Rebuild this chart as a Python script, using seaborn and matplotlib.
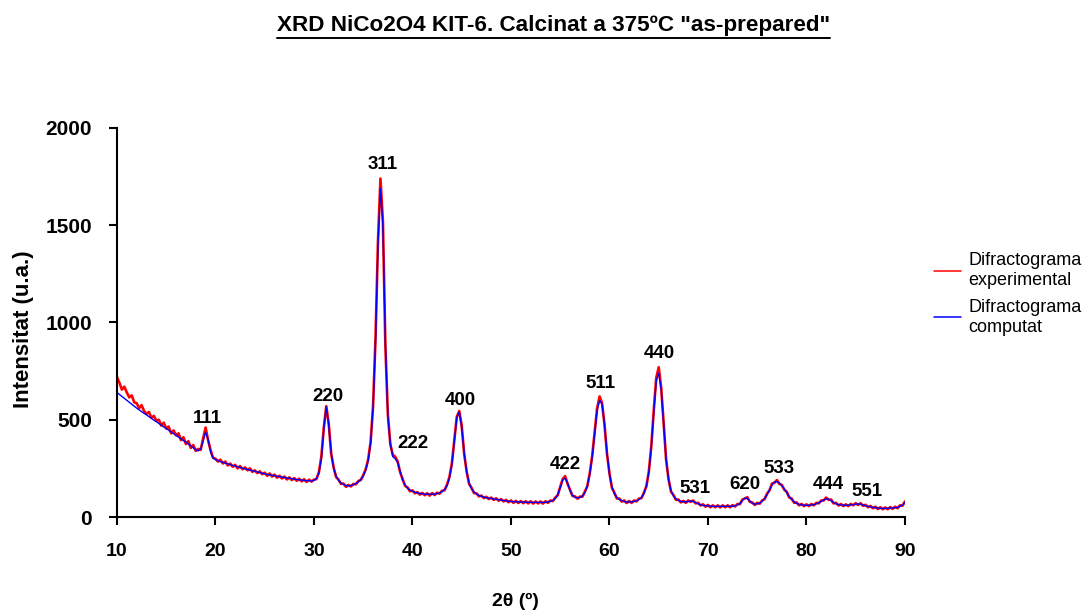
import matplotlib
matplotlib.use("Agg")
import matplotlib.pyplot as plt
from matplotlib import font_manager
from matplotlib.lines import Line2D
import seaborn as sns
import pandas as pd

# ---------------- data ----------------
two_theta = [
    10.0, 10.25, 10.5, 10.75, 11.0, 11.25, 11.5, 11.75,
    12.0, 12.25, 12.5, 12.75, 13.0, 13.25, 13.5, 13.75,
    14.0, 14.25, 14.5, 14.75, 15.0, 15.25, 15.5, 15.75,
    16.0, 16.25, 16.5, 16.75, 17.0, 17.25, 17.5, 17.75,
    18.0, 18.25, 18.5, 18.75, 19.0, 19.25, 19.5, 19.75,
    20.0, 20.25, 20.5, 20.75, 21.0, 21.25, 21.5, 21.75,
    22.0, 22.25, 22.5, 22.75, 23.0, 23.25, 23.5, 23.75,
    24.0, 24.25, 24.5, 24.75, 25.0, 25.25, 25.5, 25.75,
    26.0, 26.25, 26.5, 26.75, 27.0, 27.25, 27.5, 27.75,
    28.0, 28.25, 28.5, 28.75, 29.0, 29.25, 29.5, 29.75,
    30.0, 30.25, 30.5, 30.75, 31.0, 31.25, 31.5, 31.75,
    32.0, 32.25, 32.5, 32.75, 33.0, 33.25, 33.5, 33.75,
    34.0, 34.25, 34.5, 34.75, 35.0, 35.25, 35.5, 35.75,
    36.0, 36.25, 36.5, 36.75, 37.0, 37.25, 37.5, 37.75,
    38.0, 38.25, 38.5, 38.75, 39.0, 39.25, 39.5, 39.75,
    40.0, 40.25, 40.5, 40.75, 41.0, 41.25, 41.5, 41.75,
    42.0, 42.25, 42.5, 42.75, 43.0, 43.25, 43.5, 43.75,
    44.0, 44.25, 44.5, 44.75, 45.0, 45.25, 45.5, 45.75,
    46.0, 46.25, 46.5, 46.75, 47.0, 47.25, 47.5, 47.75,
    48.0, 48.25, 48.5, 48.75, 49.0, 49.25, 49.5, 49.75,
    50.0, 50.25, 50.5, 50.75, 51.0, 51.25, 51.5, 51.75,
    52.0, 52.25, 52.5, 52.75, 53.0, 53.25, 53.5, 53.75,
    54.0, 54.25, 54.5, 54.75, 55.0, 55.25, 55.5, 55.75,
    56.0, 56.25, 56.5, 56.75, 57.0, 57.25, 57.5, 57.75,
    58.0, 58.25, 58.5, 58.75, 59.0, 59.25, 59.5, 59.75,
    60.0, 60.25, 60.5, 60.75, 61.0, 61.25, 61.5, 61.75,
    62.0, 62.25, 62.5, 62.75, 63.0, 63.25, 63.5, 63.75,
    64.0, 64.25, 64.5, 64.75, 65.0, 65.25, 65.5, 65.75,
    66.0, 66.25, 66.5, 66.75, 67.0, 67.25, 67.5, 67.75,
    68.0, 68.25, 68.5, 68.75, 69.0, 69.25, 69.5, 69.75,
    70.0, 70.25, 70.5, 70.75, 71.0, 71.25, 71.5, 71.75,
    72.0, 72.25, 72.5, 72.75, 73.0, 73.25, 73.5, 73.75,
    74.0, 74.25, 74.5, 74.75, 75.0, 75.25, 75.5, 75.75,
    76.0, 76.25, 76.5, 76.75, 77.0, 77.25, 77.5, 77.75,
    78.0, 78.25, 78.5, 78.75, 79.0, 79.25, 79.5, 79.75,
    80.0, 80.25, 80.5, 80.75, 81.0, 81.25, 81.5, 81.75,
    82.0, 82.25, 82.5, 82.75, 83.0, 83.25, 83.5, 83.75,
    84.0, 84.25, 84.5, 84.75, 85.0, 85.25, 85.5, 85.75,
    86.0, 86.25, 86.5, 86.75, 87.0, 87.25, 87.5, 87.75,
    88.0, 88.25, 88.5, 88.75, 89.0, 89.25, 89.5, 89.75,
    90.0,
]

computed = [
    640, 630, 620, 610, 600, 590, 580, 570,
    560, 551, 542, 533, 525, 516, 507, 498,
    490, 481, 472, 463, 455, 446, 437, 428,
    420, 411, 402, 393, 385, 375, 366, 356,
    346, 340, 350, 390, 437, 400, 335, 303,
    295, 290, 285, 281, 277, 273, 269, 265,
    262, 258, 255, 251, 248, 245, 241, 238,
    235, 232, 228, 225, 222, 219, 217, 214,
    212, 210, 207, 205, 203, 201, 199, 197,
    195, 193, 191, 190, 188, 187, 186, 186,
    188, 198, 225, 300, 450, 566, 470, 330,
    250, 210, 188, 175, 167, 162, 160, 162,
    166, 172, 180, 192, 210, 240, 290, 380,
    560, 900, 1400, 1690, 1500, 900, 520, 380,
    310, 300, 280, 235, 190, 165, 148, 138,
    132, 127, 124, 121, 119, 118, 117, 117,
    118, 118, 120, 124, 130, 140, 160, 200,
    270, 390, 510, 540, 460, 330, 230, 175,
    145, 128, 118, 111, 106, 102, 99, 97,
    95, 93, 91, 89, 87, 85, 83, 81,
    80, 79, 78, 78, 77, 77, 76, 76,
    76, 75, 75, 75, 75, 75, 76, 78,
    80, 85, 95, 115, 150, 190, 200, 175,
    135, 112, 102, 98, 100, 108, 125, 160,
    220, 310, 430, 550, 600, 580, 470, 330,
    220, 155, 120, 100, 90, 84, 80, 77,
    77, 78, 80, 84, 90, 100, 120, 160,
    230, 360, 540, 700, 740, 660, 480, 300,
    190, 135, 108, 93, 85, 80, 78, 78,
    80, 82, 80, 74, 68, 64, 60, 58,
    57, 56, 55, 55, 55, 55, 55, 55,
    55, 55, 56, 58, 62, 70, 85, 98,
    95, 82, 70, 66, 68, 72, 80, 95,
    115, 140, 165, 180, 182, 175, 160, 145,
    125, 105, 90, 78, 70, 65, 62, 61,
    60, 61, 62, 64, 68, 74, 80, 88,
    93, 92, 84, 75, 68, 64, 62, 61,
    60, 61, 62, 64, 66, 67, 66, 62,
    58, 55, 52, 50, 48, 46, 45, 44,
    44, 45, 46, 47, 48, 50, 55, 62,
    75,
]

experimental = [
    720, 690, 655, 670, 640, 615, 625, 590,
    585, 560, 575, 545, 530, 540, 510, 520,
    495, 500, 470, 485, 455, 465, 430, 445,
    420, 430, 395, 410, 375, 390, 355, 370,
    340, 350, 345, 405, 460, 395, 345, 305,
    300, 285, 295, 275, 285, 265, 275, 258,
    268, 250, 262, 245, 255, 240, 250, 232,
    240, 226, 235, 220, 228, 212, 224, 208,
    218, 202, 212, 198, 208, 193, 204, 190,
    200, 186, 197, 183, 194, 180, 192, 182,
    192, 195, 230, 310, 460, 570, 480, 325,
    255, 205, 192, 170, 172, 155, 165, 157,
    170, 168, 185, 190, 215, 245, 295, 385,
    570, 920, 1420, 1740, 1520, 880, 530, 375,
    320, 310, 285, 230, 195, 160, 152, 132,
    137, 122, 128, 115, 124, 112, 122, 110,
    123, 113, 125, 120, 135, 137, 165, 205,
    275, 395, 515, 545, 470, 325, 235, 170,
    150, 123, 122, 106, 110, 97, 104, 92,
    100, 88, 96, 84, 92, 80, 88, 76,
    85, 73, 83, 72, 82, 71, 81, 70,
    81, 69, 80, 70, 80, 69, 81, 73,
    85, 82, 100, 112, 155, 195, 210, 170,
    140, 108, 106, 94, 105, 104, 130, 158,
    225, 315, 440, 560, 620, 585, 475, 325,
    225, 150, 125, 95, 95, 79, 85, 72,
    82, 73, 85, 80, 95, 97, 125, 158,
    235, 365, 550, 715, 770, 665, 485, 295,
    195, 130, 113, 88, 90, 75, 83, 73,
    85, 78, 85, 70, 73, 59, 65, 53,
    62, 50, 60, 50, 60, 49, 60, 50,
    60, 50, 61, 54, 67, 66, 90, 95,
    102, 78, 75, 62, 73, 68, 85, 92,
    120, 137, 172, 176, 190, 170, 165, 140,
    130, 100, 95, 73, 75, 60, 67, 56,
    65, 56, 67, 60, 73, 70, 85, 85,
    100, 88, 90, 70, 73, 59, 67, 56,
    65, 56, 67, 60, 71, 62, 71, 57,
    63, 50, 57, 45, 53, 41, 50, 40,
    49, 40, 51, 42, 53, 45, 60, 58,
    80,
]

peak_labels = ["111", "220", "311", "222", "400", "422", "511",
               "440", "531", "620", "533", "444", "551"]
peak_label_x = [19.2, 31.4, 37.0, 40.0, 44.9, 55.5, 59.1,
                65.1, 68.7, 73.75, 77.2, 82.2, 86.1]
peak_label_y = [509, 622, 1810, 380, 601, 272, 684,
                843, 149, 165, 247, 165, 129]

x_ticks = [10, 20, 30, 40, 50, 60, 70, 80, 90]
y_ticks = [0, 500, 1000, 1500, 2000]

series_names = ["Difractograma\nexperimental", "Difractograma\ncomputat"]
title_text = 'XRD NiCo2O4 KIT-6. Calcinat a 375ºC "as-prepared"'

# ---------------- style ----------------
sns.set_style("ticks")
available = {f.name for f in font_manager.fontManager.ttflist}
narrow = "Liberation Sans Narrow" if "Liberation Sans Narrow" in available else "Liberation Sans"
plt.rcParams["font.family"] = ["Liberation Sans", "DejaVu Sans"]
plt.rcParams["text.color"] = "black"
plt.rcParams["xtick.color"] = "black"
plt.rcParams["ytick.color"] = "black"
plt.rcParams["axes.labelcolor"] = "black"

df = pd.DataFrame({
    "2theta": two_theta * 2,
    "I": experimental + computed,
    "serie": [series_names[0]] * len(two_theta) + [series_names[1]] * len(two_theta),
})

fig = plt.figure(figsize=(10.83, 6.13), dpi=100)
fig.patch.set_facecolor("white")
ax = fig.add_axes([0.108, 0.1566, 0.7276, 0.6346])

sns.lineplot(data=df, x="2theta", y="I", hue="serie",
             palette={series_names[0]: "#FF0000", series_names[1]: "#0000FF"},
             size="serie", sizes={series_names[0]: 1.9, series_names[1]: 1.0},
             ax=ax, legend=False, estimator=None, sort=False)

ax.set_xlim(10, 90)
ax.set_ylim(0, 2000)
ax.set_xticks(x_ticks)
ax.set_yticks(y_ticks)
ax.set_xticklabels([str(t) for t in x_ticks], fontfamily=narrow,
                   fontweight="bold", fontsize=14)
ax.set_yticklabels([str(t) for t in y_ticks], fontweight="bold", fontsize=15)
ax.tick_params(axis="both", direction="out", length=6, width=1.5, colors="black")
ax.tick_params(axis="x", pad=13)
ax.tick_params(axis="y", pad=12)
for s in ["top", "right"]:
    ax.spines[s].set_visible(False)
for s in ["left", "bottom"]:
    ax.spines[s].set_linewidth(1.5)
    ax.spines[s].set_color("black")
ax.set_xlabel("")
ax.set_ylabel("")
ax.set_facecolor("white")

for lab, lx, ly in zip(peak_labels, peak_label_x, peak_label_y):
    ax.text(lx, ly, lab, ha="center", va="center", fontsize=13.5,
            fontweight="bold", color="black")

fig.text(0.0215, 0.463, "Intensitat (u.a.)", rotation=90, ha="center", va="center",
         fontsize=16, fontweight="bold", color="black")
fig.text(0.4755, 0.018, "2θ (º)", ha="center", va="center",
         fontsize=14, fontweight="bold", fontfamily=narrow, color="black")

handles = [Line2D([], [], color="#FF0000", lw=1.1),
           Line2D([], [], color="#0000FF", lw=1.1)]
leg = fig.legend(handles, series_names, loc="upper left", bbox_to_anchor=(0.856, 0.600),
                 frameon=False, fontsize=13, handlelength=1.5, handletextpad=0.4,
                 labelspacing=0.55, borderaxespad=0)
for t in leg.get_texts():
    t.set_color("black")
    t.set_linespacing(1.2)

title = fig.text(0.511, 0.958, title_text, ha="center", va="center",
                 fontsize=16.2, fontweight="bold", fontfamily=narrow, color="black")
fig.canvas.draw()
bb = title.get_window_extent(renderer=fig.canvas.get_renderer())
W, H = fig.bbox.width, fig.bbox.height
uy = (bb.y0 - 2) / H
fig.add_artist(Line2D([bb.x0 / W, bb.x1 / W], [uy, uy], color="black", lw=1.4,
                      transform=fig.transFigure))

fig.savefig("out.png", dpi=100, facecolor="white")
